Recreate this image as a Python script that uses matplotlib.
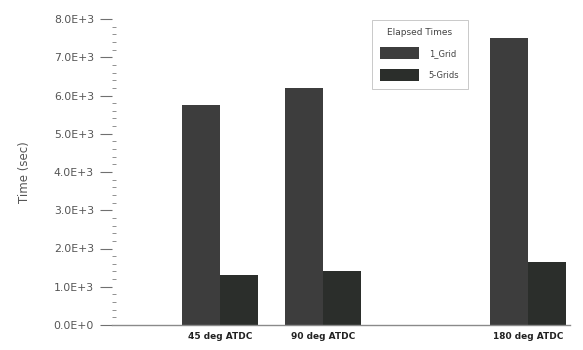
import numpy as np
import matplotlib
matplotlib.use("Agg")
import matplotlib.pyplot as plt
from matplotlib.ticker import MultipleLocator, FuncFormatter

# elapsed times per crank angle
angles = [45, 90, 180]
angle_labels = ["45 deg ATDC", "90 deg ATDC", "180 deg ATDC"]
one_grid = [5750, 6200, 7500]
five_grids = [1300, 1400, 1650]

width = 16.7
x = np.array(angles, dtype=float)

fig = plt.figure(figsize=(5.83, 3.5), dpi=100)
ax = fig.add_axes([112 / 583, 25 / 350, (570 - 112) / 583, (325 - 19) / 350])

b1 = ax.bar(x - width / 2, one_grid, width, color="#3d3d3d", label="1_Grid")
b2 = ax.bar(x + width / 2, five_grids, width, color="#2b2e2b", label="5-Grids")

ax.set_xlim(-2.4, 198.5)
ax.set_ylim(0, 8000)

for s in ["top", "right", "left"]:
    ax.spines[s].set_visible(False)
ax.spines["bottom"].set_color("#8a8a8a")
ax.spines["bottom"].set_linewidth(1.0)

ax.yaxis.set_major_locator(MultipleLocator(1000))
ax.yaxis.set_minor_locator(MultipleLocator(200))
ax.yaxis.set_major_formatter(FuncFormatter(lambda v, p: "%.1fE+%d" % (v / 1000, 3) if v > 0 else "0.0E+0"))
ax.tick_params(axis="y", which="major", direction="out", length=9, width=0.8,
               color="#707070", labelsize=7.8, labelcolor="#555555", pad=4)
ax.tick_params(axis="y", which="minor", direction="in", length=3, width=0.7, color="#909090")

ax.set_xticks(angles)
ax.set_xticklabels(angle_labels, fontsize=6.5, fontweight="bold", color="#222222")
ax.tick_params(axis="x", length=0, pad=5)

ax.set_ylabel("Time (sec)", fontsize=8.5, color="#555555", labelpad=16)

leg = ax.legend(title="Elapsed Times", loc="upper left",
                bbox_to_anchor=(372 / 583, 1 - 20 / 350), bbox_transform=fig.transFigure,
                fontsize=6, title_fontsize=6.5, frameon=True, fancybox=False,
                handlelength=4.6, handleheight=1.8, handletextpad=1.2,
                labelspacing=1.2, borderpad=1.0, borderaxespad=0)
leg.get_frame().set_edgecolor("#b0b0b0")
leg.get_frame().set_linewidth(0.6)
for t in leg.get_texts():
    t.set_color("#444444")
leg.get_title().set_color("#444444")

fig.savefig("out.png", dpi=100)
